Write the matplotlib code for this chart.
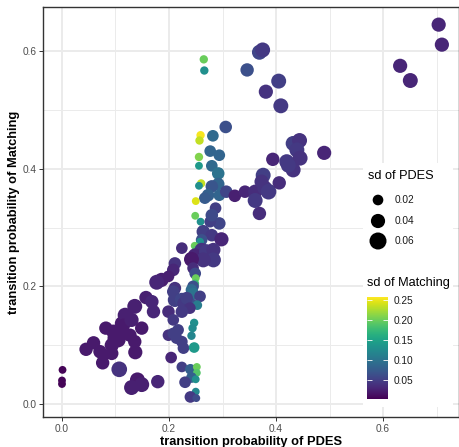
import numpy as np
import matplotlib
matplotlib.use("Agg")
import matplotlib.pyplot as plt
from matplotlib.patches import Rectangle
from matplotlib.colors import Normalize

plt.rcParams['font.family'] = ['Liberation Sans', 'DejaVu Sans']

# transition probabilities (x = PDES, y = Matching) with their sd values
pdes = [0.704, 0.710, 0.632, 0.651,
        0.265, 0.266, 0.346, 0.369, 0.375, 0.405, 0.381, 0.409, 0.306,
        0.259, 0.257, 0.282, 0.256, 0.256, 0.277, 0.294, 0.280, 0.292, 0.260,
        0.256, 0.292, 0.280, 0.273, 0.267, 0.250, 0.294, 0.307, 0.323, 0.342,
        0.361, 0.361, 0.376, 0.373, 0.379, 0.386, 0.406, 0.394, 0.420, 0.432,
        0.444, 0.439, 0.445, 0.432, 0.423, 0.490, 0.287, 0.369, 0.249, 0.259,
        0.294, 0.277, 0.264, 0.280, 0.298, 0.261, 0.258, 0.248, 0.250, 0.224,
        0.261, 0.249, 0.270, 0.283, 0.283, 0.264, 0.242, 0.211, 0.208, 0.199,
        0.245, 0.249, 0.250, 0.249, 0.245, 0.186, 0.211, 0.249, 0.242, 0.245,
        0.258, 0.242, 0.236, 0.253, 0.208, 0.211, 0.224, 0.227, 0.233, 0.239,
        0.224, 0.199, 0.208, 0.199, 0.208, 0.217, 0.214, 0.224, 0.227, 0.247,
        0.244, 0.242, 0.247, 0.204, 0.224, 0.240, 0.252, 0.252, 0.242, 0.250,
        0.230, 0.250, 0.240, 0.251,
        0.001, 0.000, 0.000, 0.045, 0.059, 0.076, 0.077, 0.071, 0.082, 0.093,
        0.093, 0.099, 0.096, 0.105, 0.112, 0.112, 0.118, 0.115, 0.130, 0.136,
        0.127, 0.136, 0.137, 0.149, 0.107, 0.141, 0.130, 0.149, 0.179, 0.157,
        0.168, 0.171, 0.177, 0.280]
matching = [0.645, 0.611, 0.575, 0.550,
            0.586, 0.567, 0.568, 0.598, 0.602, 0.549, 0.531, 0.507, 0.471,
            0.457, 0.448, 0.456, 0.420, 0.405, 0.430, 0.423, 0.405, 0.392, 0.375,
            0.371, 0.374, 0.370, 0.355, 0.350, 0.345, 0.355, 0.361, 0.354, 0.361,
            0.361, 0.346, 0.389, 0.378, 0.367, 0.361, 0.376, 0.416, 0.412, 0.443,
            0.448, 0.432, 0.418, 0.398, 0.406, 0.427, 0.333, 0.324, 0.320, 0.310,
            0.307, 0.310, 0.293, 0.287, 0.280, 0.279, 0.276, 0.269, 0.262, 0.265,
            0.262, 0.252, 0.259, 0.262, 0.245, 0.245, 0.246, 0.239, 0.228, 0.217,
            0.231, 0.222, 0.214, 0.205, 0.200, 0.211, 0.197, 0.185, 0.194, 0.188,
            0.183, 0.170, 0.164, 0.168, 0.191, 0.177, 0.177, 0.171, 0.180, 0.163,
            0.157, 0.157, 0.143, 0.117, 0.120, 0.126, 0.112, 0.106, 0.095, 0.138,
            0.129, 0.116, 0.096, 0.079, 0.063, 0.059, 0.063, 0.053, 0.045, 0.042,
            0.037, 0.021, 0.012, 0.010,
            0.058, 0.040, 0.034, 0.093, 0.104, 0.070, 0.083, 0.089, 0.129, 0.100,
            0.086, 0.112, 0.123, 0.109, 0.120, 0.137, 0.151, 0.134, 0.143, 0.166,
            0.117, 0.106, 0.088, 0.129, 0.059, 0.041, 0.028, 0.033, 0.038, 0.181,
            0.174, 0.157, 0.207, 0.321]
sd_pdes = [0.04, 0.04, 0.04, 0.045,
           0.01, 0.01, 0.035, 0.045, 0.045, 0.045, 0.04, 0.045, 0.03,
           0.01, 0.01, 0.025, 0.01, 0.008, 0.025, 0.025, 0.025, 0.03, 0.01,
           0.008, 0.03, 0.03, 0.03, 0.025, 0.008, 0.025, 0.03, 0.03, 0.03,
           0.04, 0.045, 0.045, 0.04, 0.045, 0.05, 0.035, 0.035, 0.045, 0.045,
           0.045, 0.045, 0.045, 0.045, 0.045, 0.04, 0.025, 0.035, 0.008, 0.008,
           0.03, 0.025, 0.035, 0.03, 0.04, 0.025, 0.008, 0.008, 0.008, 0.025,
           0.04, 0.045, 0.045, 0.04, 0.045, 0.045, 0.045, 0.03, 0.03, 0.025,
           0.025, 0.025, 0.008, 0.008, 0.025, 0.04, 0.03, 0.008, 0.025, 0.025,
           0.025, 0.025, 0.025, 0.015, 0.03, 0.04, 0.04, 0.03, 0.03, 0.025,
           0.03, 0.03, 0.025, 0.025, 0.025, 0.025, 0.025, 0.025, 0.025, 0.01,
           0.01, 0.01, 0.02, 0.025, 0.02, 0.02, 0.008, 0.008, 0.02, 0.008,
           0.025, 0.008, 0.025, 0.008,
           0.008, 0.008, 0.008, 0.035, 0.035, 0.035, 0.03, 0.035, 0.035, 0.04,
           0.035, 0.045, 0.04, 0.045, 0.04, 0.04, 0.045, 0.035, 0.04, 0.045,
           0.035, 0.035, 0.04, 0.035, 0.05, 0.045, 0.045, 0.045, 0.035, 0.035,
           0.035, 0.035, 0.045, 0.03]
sd_matching = [0.03, 0.03, 0.03, 0.03,
               0.20, 0.13, 0.065, 0.055, 0.045, 0.05, 0.04, 0.045, 0.065,
               0.255, 0.235, 0.09, 0.21, 0.14, 0.085, 0.085, 0.09, 0.10, 0.235,
               0.13, 0.085, 0.07, 0.08, 0.075, 0.245, 0.085, 0.055, 0.025, 0.03,
               0.035, 0.045, 0.05, 0.04, 0.04, 0.045, 0.035, 0.03, 0.045, 0.05,
               0.04, 0.045, 0.04, 0.04, 0.045, 0.03, 0.05, 0.035, 0.20, 0.13,
               0.055, 0.05, 0.05, 0.045, 0.03, 0.065, 0.13, 0.20, 0.19, 0.035,
               0.04, 0.03, 0.045, 0.04, 0.045, 0.04, 0.02, 0.04, 0.03, 0.025,
               0.035, 0.06, 0.20, 0.18, 0.065, 0.025, 0.04, 0.19, 0.09, 0.10,
               0.05, 0.065, 0.04, 0.11, 0.05, 0.05, 0.055, 0.045, 0.05, 0.04,
               0.045, 0.035, 0.045, 0.04, 0.05, 0.05, 0.05, 0.05, 0.05, 0.13,
               0.125, 0.12, 0.14, 0.03, 0.05, 0.08, 0.20, 0.19, 0.08, 0.13,
               0.05, 0.12, 0.045, 0.06,
               0.005, 0.005, 0.005, 0.02, 0.02, 0.02, 0.02, 0.02, 0.02, 0.02,
               0.02, 0.02, 0.02, 0.02, 0.02, 0.02, 0.025, 0.02, 0.025, 0.025,
               0.02, 0.02, 0.02, 0.02, 0.04, 0.02, 0.025, 0.025, 0.03, 0.025,
               0.03, 0.03, 0.03, 0.06]

size_breaks = [0.02, 0.04, 0.06]
color_breaks = [0.05, 0.10, 0.15, 0.20, 0.25]


def point_area(sd):
    # area in pt^2, linear in sd like ggplot's area scale
    return 13.5 + 2275 * np.asarray(sd)


W, H = 459, 447
fig = plt.figure(figsize=(W / 100, H / 100), dpi=100)
ax = fig.add_axes([43 / W, 1 - 417 / H, 1 - 43 / W, (417 - 7) / H])

norm = Normalize(vmin=0.003, vmax=0.258)
sc = ax.scatter(pdes, matching, s=point_area(sd_pdes), c=sd_matching,
                cmap='viridis', norm=norm, linewidths=0, zorder=3)

ax.set_xlim(-0.0355, 0.742)
ax.set_ylim(-0.0221, 0.675)
ax.set_xticks([0.0, 0.2, 0.4, 0.6])
ax.set_yticks([0.0, 0.2, 0.4, 0.6])
ax.set_xticks([0.1, 0.3, 0.5, 0.7], minor=True)
ax.set_yticks([0.1, 0.3, 0.5], minor=True)
ax.set_xticklabels(['0.0', '0.2', '0.4', '0.6'])
ax.set_yticklabels(['0.0', '0.2', '0.4', '0.6'])
ax.grid(True, which='major', color='#EBEBEB', linewidth=1.4, zorder=0)
ax.grid(True, which='minor', color='#EBEBEB', linewidth=0.7, zorder=0)
ax.set_axisbelow(True)
ax.tick_params(which='major', length=2.75, width=0.7, color='#333333',
               labelsize=7.3, labelcolor='#4D4D4D', pad=2)
ax.tick_params(which='minor', length=0)
for sp in ax.spines.values():
    sp.set_color('#333333')
    sp.set_linewidth(1.0)

ax.set_xlabel('transition probability of PDES', fontsize=9.3,
              fontweight='bold', labelpad=2)
ax.set_ylabel('transition probability of Matching', fontsize=9.3,
              fontweight='bold', labelpad=1.5)

# white legend background inside the panel
fig.add_artist(Rectangle((363 / W, 1 - 407 / H), 90 / W, 244 / H,
                         transform=fig.transFigure, facecolor='white',
                         edgecolor='none', zorder=1))

# size legend
fig.text(368 / W, 1 - 176 / H, 'sd of PDES', fontsize=9.2, va='center',
         ha='left', zorder=2)
lax = fig.add_axes([368 / W, 1 - 250 / H, 80 / W, 60 / H], zorder=2)
lax.set_xlim(368, 448)
lax.set_ylim(250, 190)
lax.axis('off')
key_y = [200, 221, 241]
lax.scatter([378] * 3, key_y, s=point_area(size_breaks), color='black',
            linewidths=0)
for yy, b in zip(key_y, size_breaks):
    lax.text(395, yy, f'{b:.2f}', fontsize=7.3, color='#1A1A1A',
             va='center', ha='left')

# colour legend
fig.text(367 / W, 1 - 283 / H, 'sd of Matching', fontsize=9.2, va='center',
         ha='left', zorder=2)
cax = fig.add_axes([367 / W, 1 - 399 / H, 21 / W, 102 / H], zorder=2)
cb = fig.colorbar(sc, cax=cax, ticks=color_breaks)
cb.outline.set_visible(False)
cb.ax.set_yticklabels([f'{b:.2f}' for b in color_breaks])
cb.ax.tick_params(direction='in', color='white', length=3.5, width=0.6,
                  left=True, right=True, labelsize=7.3,
                  labelcolor='#1A1A1A', pad=4)

fig.savefig('out.png', dpi=100)
